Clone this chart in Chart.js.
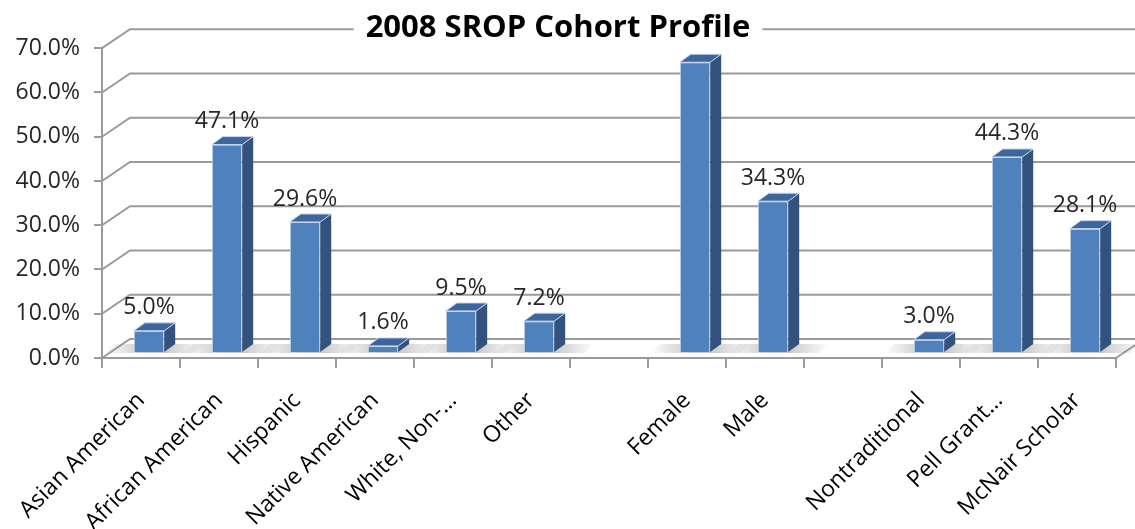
<!DOCTYPE html>
<html lang="en">
<head>
<meta charset="UTF-8">
<title>2008 SROP Cohort Profile</title>
<style>
  body { margin: 0; background: #fff; }
  .wrap { width: 1135px; height: 529px; }
</style>
</head>
<body>
<div class="wrap"><canvas id="cohortChart"></canvas></div>

<script src="https://cdn.jsdelivr.net/npm/chart.js"></script>
<script>
  const categories = ['Asian American', 'African American', 'Hispanic', 'Native American', 'White, Non-…', 'Other', '',
                      'Female', 'Male', '', 'Nontraditional', 'Pell Grant…', 'McNair Scholar'];
  const percentages = [5.0, 47.1, 29.6, 1.6, 9.5, 7.2, null, 65.7, 34.3, null, 3.0, 44.3, 28.1];
  const hiddenLabels = ['Female'];   // no value label shown for this one in the original
  const yMax = 70;
  const yStep = 10;

  // 3D look: back wall offset, bar depth, bar position inside the floor
  const wall = { dx: 28, dy: 19 };
  const depth = { dx: 11, dy: 8, shiftX: 8, shiftY: -5 };
  const gridColor = '#9a9a9a';

  const threeD = {
    id: 'threeD',
    beforeDatasetsDraw(chart) {
      const { ctx, chartArea, scales } = chart;
      const y = scales.y;

      // gap in the top back line where the title sits
      let gap = null;
      const tb = chart.titleBlock;
      if (tb) {
        ctx.save();
        ctx.font = Chart.helpers.toFont(tb.options.font).string;
        const w = ctx.measureText(tb.options.text).width;
        ctx.restore();
        const cx = (tb.left + tb.right) / 2;
        gap = [cx - w / 2 - 12, cx + w / 2 + 12];
      }

      ctx.save();
      ctx.strokeStyle = gridColor;
      ctx.lineWidth = 2;
      for (let v = 0; v <= yMax; v += yStep) {
        const py = y.getPixelForValue(v);
        const by = py - wall.dy;
        const x0 = chartArea.left, x1 = chartArea.left + wall.dx, x2 = chartArea.right + wall.dx;
        ctx.beginPath();
        ctx.moveTo(x0, py);
        ctx.lineTo(x1, by);
        if (v === yMax && gap) {
          ctx.lineTo(gap[0], by);
          ctx.moveTo(gap[1], by);
        }
        ctx.lineTo(x2, by);
        ctx.stroke();
      }
      // right edge of the floor
      ctx.beginPath();
      ctx.moveTo(chartArea.right, chartArea.bottom);
      ctx.lineTo(chartArea.right + wall.dx, chartArea.bottom - wall.dy);
      ctx.stroke();
      ctx.restore();

      ctx.save();
      ctx.translate(depth.shiftX, depth.shiftY);

      // soft shadows on the floor around each bar foot
      const meta = chart.getDatasetMeta(0);
      meta.data.forEach((el, i) => {
        if (percentages[i] == null) return;
        const { x, base, width } = el.getProps(['x', 'base', 'width'], true);
        const l = x - width / 2 - 30, r = x + width / 2 + depth.dx + 30;
        const g = ctx.createLinearGradient(l, 0, r, 0);
        g.addColorStop(0, 'rgba(120,120,120,0)');
        g.addColorStop(0.4, 'rgba(120,120,120,0.4)');
        g.addColorStop(0.6, 'rgba(120,120,120,0.4)');
        g.addColorStop(1, 'rgba(120,120,120,0)');
        ctx.fillStyle = g;
        ctx.beginPath();
        ctx.moveTo(l, base + 1);
        ctx.lineTo(r - depth.dx, base + 1);
        ctx.lineTo(r, base - depth.dy);
        ctx.lineTo(l + depth.dx, base - depth.dy);
        ctx.closePath();
        ctx.fill();
      });
    },
    afterDatasetsDraw(chart) {
      const { ctx } = chart;
      const meta = chart.getDatasetMeta(0);
      meta.data.forEach((el, i) => {
        if (percentages[i] == null) return;
        const { x, y, base, width } = el.getProps(['x', 'y', 'base', 'width'], true);
        const l = x - width / 2, r = x + width / 2;
        // side face
        ctx.fillStyle = '#33527d';
        ctx.beginPath();
        ctx.moveTo(r, y);
        ctx.lineTo(r + depth.dx, y - depth.dy);
        ctx.lineTo(r + depth.dx, base - depth.dy);
        ctx.lineTo(r, base);
        ctx.closePath();
        ctx.fill();
        // top face
        ctx.fillStyle = '#3d679c';
        ctx.beginPath();
        ctx.moveTo(l, y);
        ctx.lineTo(l + depth.dx, y - depth.dy);
        ctx.lineTo(r + depth.dx, y - depth.dy);
        ctx.lineTo(r, y);
        ctx.closePath();
        ctx.fill();
        ctx.strokeStyle = '#c9d6ea';
        ctx.lineWidth = 1;
        ctx.stroke();
      });
      ctx.restore();

      // value labels
      ctx.save();
      ctx.font = '23px "Open Sans"';
      ctx.fillStyle = '#262626';
      ctx.textAlign = 'center';
      ctx.textBaseline = 'middle';
      meta.data.forEach((el, i) => {
        const v = percentages[i];
        if (v == null || hiddenLabels.includes(categories[i])) return;
        ctx.fillText(v.toFixed(1) + '%', el.x + depth.shiftX, el.y + depth.shiftY - 23);
      });
      ctx.restore();
    }
  };

  new Chart(document.getElementById('cohortChart'), {
    type: 'bar',
    data: {
      labels: categories,
      datasets: [{
        data: percentages,
        backgroundColor: '#4f81bd',
        borderColor: '#c9d6ea',
        borderWidth: 1,
        categoryPercentage: 1,
        barPercentage: 0.39
      }]
    },
    options: {
      responsive: true,
      maintainAspectRatio: false,
      animation: false,
      layout: { padding: { right: 19, bottom: 0 } },
      plugins: {
        legend: { display: false },
        tooltip: { enabled: false },
        title: {
          display: true,
          text: '2008 SROP Cohort Profile',
          color: '#000',
          font: { family: 'Open Sans', size: 31, weight: 'bold' },
          padding: { top: 10, bottom: 1 }
        }
      },
      scales: {
        x: {
          grid: { drawOnChartArea: false, tickLength: 10, color: gridColor, lineWidth: 2 },
          border: { color: gridColor, width: 2 },
          ticks: {
            minRotation: 45, maxRotation: 45, autoSkip: false,
            color: '#000', font: { family: 'Open Sans', size: 23 }, padding: 19
          },
          afterFit: (s) => { s.height = 171; }
        },
        y: {
          min: 0, max: yMax,
          grid: { drawOnChartArea: false, tickLength: 8, color: gridColor, lineWidth: 2 },
          border: { color: gridColor, width: 2 },
          ticks: {
            stepSize: yStep,
            color: '#262626', font: { family: 'Open Sans', size: 23 }, padding: 14,
            callback: (v) => v.toFixed(1) + '%'
          },
          afterFit: (s) => { s.width = 102; }
        }
      }
    },
    plugins: [threeD]
  });
</script>
</body>
</html>
